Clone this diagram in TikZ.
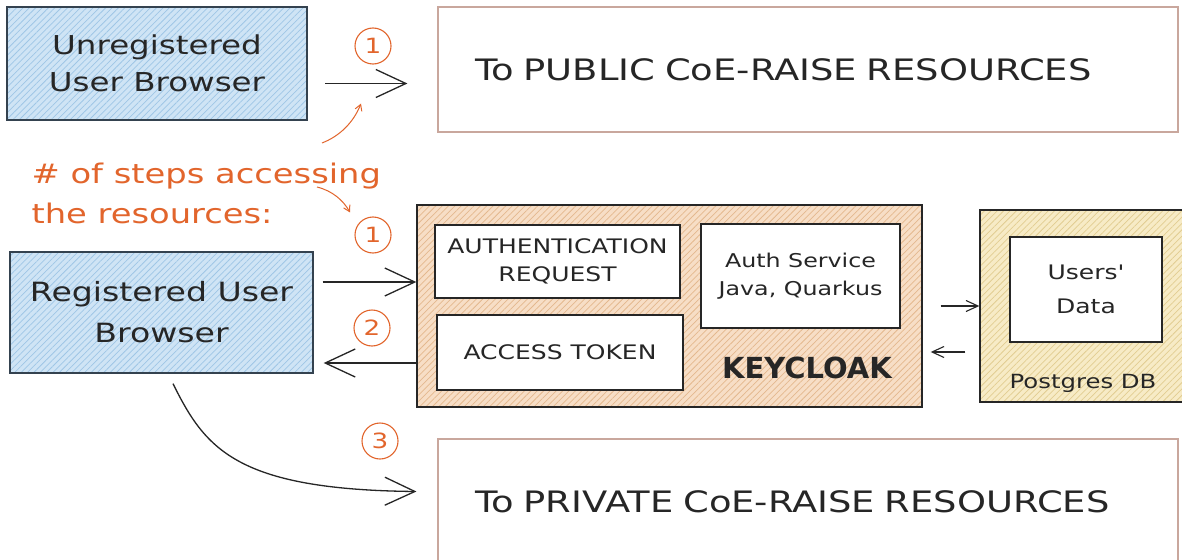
\documentclass[tikz,border=0pt]{standalone}
\usepackage{fontspec}
\setmainfont{DejaVu Sans}[FakeStretch=1.25]
\newfontfamily\kcfont{DejaVu Sans}
\newfontfamily\plainfont{DejaVu Sans}[FakeStretch=1.25, Ligatures=TeXOff]
\usetikzlibrary{arrows.meta,patterns.meta,bending}

\definecolor{ink}{HTML}{262626}
\definecolor{accent}{HTML}{E2652C}
\definecolor{blueFill}{HTML}{CFE4F5}
\definecolor{blueHatch}{HTML}{9FC6E6}
\definecolor{blueEdge}{HTML}{34424F}
\definecolor{peachFill}{HTML}{F7DEC6}
\definecolor{peachHatch}{HTML}{E4B88E}
\definecolor{sandFill}{HTML}{F7EBC6}
\definecolor{sandHatch}{HTML}{E2CD92}
\definecolor{resEdge}{HTML}{C9A79D}

\tikzset{
  box/.style={draw=ink, line width=1.4pt, rectangle, inner sep=0pt,
    align=center, text=ink},
  hatch/.style 2 args={preaction={fill=#1},
    pattern={Lines[angle=45,distance=4.5pt,line width=0.75pt]},
    pattern color=#2},
  userbox/.style={box, draw=blueEdge, hatch={blueFill}{blueHatch}},
  resbox/.style={draw=resEdge, line width=1.2pt, rectangle, inner sep=0pt,
    fill=white, text=ink, font=\fontsize{29.5}{32}\selectfont,
    text width=666pt, align=left},
  inbox/.style={box, fill=white},
  numbadge/.style={circle, draw=accent, line width=1.1pt, text=accent,
    minimum size=36pt, inner sep=0pt, font=\fontsize{21}{22}\selectfont},
  arr/.style={draw=ink, line width=1.3pt,
    -{Straight Barb[length=30pt,width=28pt,line width=1.3pt]}},
  smallarr/.style={draw=ink, line width=1.1pt,
    -{Straight Barb[length=12pt,width=11pt,line width=1.1pt]}},
  hint/.style={draw=accent, line width=1pt,
    -{Straight Barb[length=6pt,width=7pt,line width=1pt]}},
}

\begin{document}
\begin{tikzpicture}[x=1pt,y=-1pt]
\useasboundingbox[fill=white] (0,0) rectangle (1182,559);

% client browsers
\node[userbox, minimum width=300pt, minimum height=113pt,
  font=\fontsize{26}{37}\selectfont] (unreg)
  at (157,63.5) {Unregistered\\User Browser};
\node[userbox, minimum width=303pt, minimum height=121pt,
  font=\fontsize{26.5}{41}\selectfont] (reg)
  at (161.5,312.5) {Registered User\\Browser};

% resource targets
\node[resbox, minimum width=740pt, minimum height=125pt] (pub)
  at (808,69.5) {To PUBLIC CoE-RAISE RESOURCES};
\node[resbox, minimum width=740pt, minimum height=126pt] (priv)
  at (808,502) {To PRIVATE CoE-RAISE RESOURCES};

% Keycloak container and its parts
\node[box, hatch={peachFill}{peachHatch}, minimum width=505pt,
  minimum height=202pt] (kc) at (669.5,306) {};
\node[inbox, minimum width=245pt, minimum height=73pt,
  font=\fontsize{20}{28}\selectfont] (authreq) at (557.5,261.5)
  {AUTHENTICATION\\REQUEST};
\node[inbox, minimum width=246pt, minimum height=75pt,
  font=\fontsize{20}{28}\selectfont] (token) at (560,352.5) {ACCESS TOKEN};
\node[inbox, minimum width=199pt, minimum height=104pt,
  font=\fontsize{19}{28}\selectfont] (authsvc) at (800.5,276)
  {Auth Service\\Java, Quarkus};
\node[text=ink, font=\kcfont\fontsize{29}{30}\selectfont\bfseries] (kclabel)
  at (807,368) {KEYCLOAK};

% database
\node[box, hatch={sandFill}{sandHatch}, minimum width=210pt,
  minimum height=192pt] (pg) at (1085,306) {};
\node[inbox, minimum width=152pt, minimum height=105pt,
  font=\plainfont\fontsize{20}{34}\selectfont] (users) at (1086,289.5)
  {Users'\\Data};
\node[text=ink, font=\fontsize{19.5}{20}\selectfont] (pglabel)
  at (1083,383) {Postgres DB};

% annotation
\node[anchor=west, align=left, text=accent,
  font=\fontsize{27}{40}\selectfont] (note) at (28,193)
  {\# of steps accessing\\the resources:};
\coordinate (hintA) at (322,143);
\coordinate (hintB) at (317,187);

% step badges
\node[numbadge] (s1a) at (373,46) {1};
\node[numbadge] (s1b) at (373,235) {1};
\node[numbadge] (s2) at (372,328) {2};
\node[numbadge] (s3) at (380,441) {3};

% flows
\draw[arr] ([xshift=18pt,yshift=-20pt]unreg.east)
  -- ([xshift=-30pt,yshift=-14pt]pub.west);
\draw[arr] ([xshift=9pt,yshift=30.5pt]reg.east) -- ([yshift=24pt]kc.west);
\draw[arr] ([yshift=-57pt]kc.west) -- ([xshift=10pt,yshift=-50.5pt]reg.east);
\draw[arr] ([xshift=11.5pt,yshift=-10pt]reg.south)
  .. controls (205,448) and (235,490) .. ([xshift=-21pt,yshift=10.5pt]priv.west);
\draw[smallarr] ([xshift=18pt]kc.east) -- (pg.west);
\draw[smallarr] ([xshift=-14pt,yshift=-46pt]pg.west)
  -- ([xshift=8pt,yshift=-46pt]kc.east);

% pointers from the annotation
\draw[hint] (hintA)
  .. controls (340,136) and (354,122) .. ([xshift=-12pt,yshift=-39pt]s1a.south);
\draw[hint] (hintB)
  .. controls (333,191) and (344,201) .. ([xshift=-23pt,yshift=4pt]s1b.north);
\end{tikzpicture}
\end{document}
